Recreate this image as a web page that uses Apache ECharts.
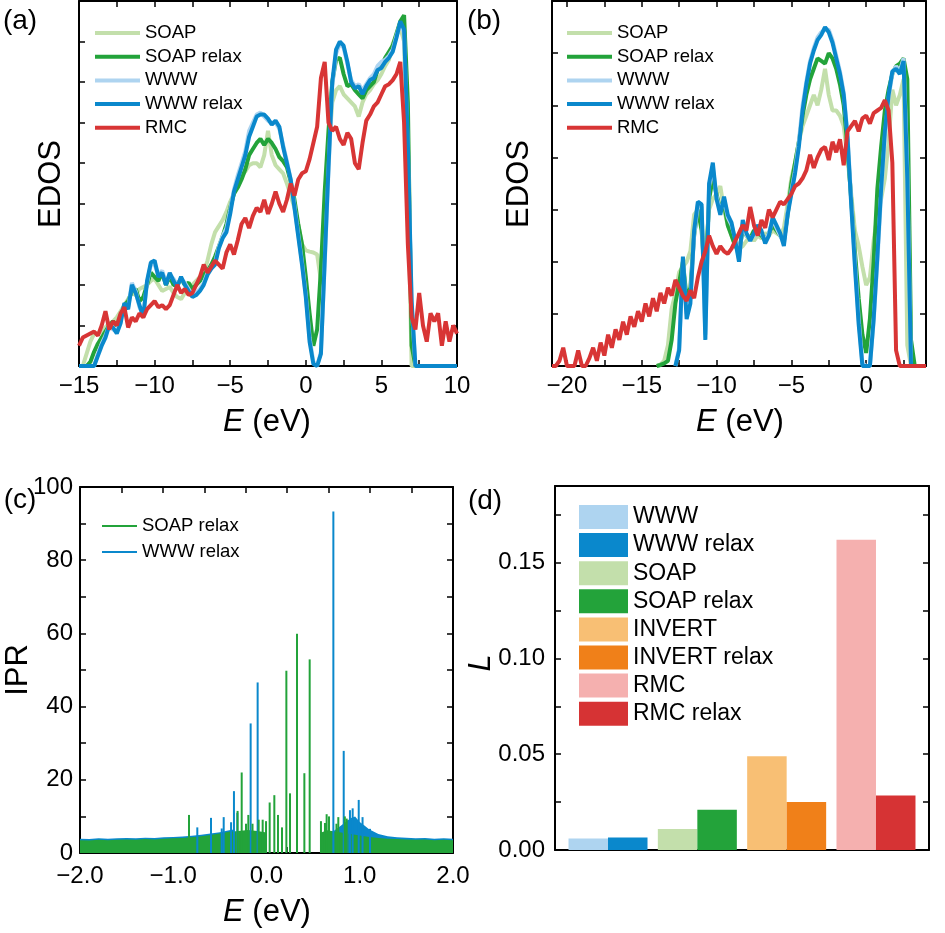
<!DOCTYPE html>
<html><head><meta charset="utf-8">
<script src="https://cdn.jsdelivr.net/npm/echarts@6.0.0/dist/echarts.min.js"></script>
<style>html,body{margin:0;padding:0;background:#fff}#c{width:945px;height:933px}</style>
</head><body><div id="c"></div>
<script>
// ---------------- DATA ----------------
// Panel (a): EDOS, E grid in eV
const energyA = [-15,-14.75,-14.5,-14.25,-14,-13.75,-13.5,-13.25,-13,-12.75,-12.5,-12.25,-12,-11.75,-11.5,-11.25,-11,-10.75,-10.5,-10.25,-10,-9.75,-9.5,-9.25,-9,-8.75,-8.5,-8.25,-8,-7.75,-7.5,-7.25,-7,-6.75,-6.5,-6.25,-6,-5.75,-5.5,-5.25,-5,-4.75,-4.5,-4.25,-4,-3.75,-3.5,-3.25,-3,-2.75,-2.5,-2.25,-2,-1.75,-1.5,-1.25,-1,-0.75,-0.5,-0.25,0,0.25,0.5,0.75,1,1.25,1.5,1.75,2,2.25,2.5,2.75,3,3.25,3.5,3.75,4,4.25,4.5,4.75,5,5.25,5.5,5.75,6,6.25,6.5,6.75,7,7.25,7.5,7.75,8,8.25,8.5,8.75,9,9.25,9.5,9.75,10];
const soapA = [0,0,0.3,0.6,0.8,0.8,0.85,0.95,1.05,1.1, 1.2,1.35,1.5,1.65,1.8,1.75,1.9,1.95,2.0,2.1, 2.15,2.0,1.85,1.9,1.95,1.8,1.7,1.65,1.8,1.95, 2.0,2.1,2.2,2.3,2.6,3.0,3.3,3.45,3.6,3.8, 4.05,4.25,4.5,4.7,4.8,4.95,5.0,5.0,4.9,5.2, 5.8,5.2,4.95,4.85,4.75,4.5,4.2,3.9,3.5,3.0, 2.85,2.82,2.8,2.75,2.1,3.6,5.2,6.5,6.8,6.9, 6.7,6.6,6.5,6.4,6.15,6.5,6.7,6.8,6.95,7.05, 7.2,7.4,7.55,7.95,8.15,8.35,8.0,4.5,0,0, 0,0,0,0,0,0,0,0,0,0,0];
const soapRelaxA = [0,0,0,0.1,0.35,0.55,0.7,0.85,1.0,1.1, 1.0,1.2,1.5,1.6,1.85,1.9,1.6,1.7,2.0,2.3, 2.2,2.1,2.3,2.0,2.2,2.0,2.0,2.15,2.0,2.05, 1.9,2.0,2.1,2.25,2.35,2.5,2.7,2.95,3.2,3.5, 3.9,4.25,4.4,4.6,4.85,5.2,5.35,5.5,5.6,5.45, 5.6,5.5,5.35,5.15,5.05,4.9,4.55,4.1,3.5,3.0, 2.2,1.3,0.5,0.9,2.4,4.3,5.8,7.0,7.55,7.6, 7.2,6.9,6.95,6.8,6.7,6.6,6.8,6.9,7.0,7.3, 7.4,7.6,7.75,7.9,8.2,8.5,8.65,6.5,0.5,0, 0,0,0,0,0,0,0,0,0,0,0];
const wwwA = [0,0,0,0,0,0.3,0.55,0.75,1.0,0.9, 0.85,1.1,1.5,1.45,2.05,1.85,1.45,1.25,2.05,2.5, 2.5,2.25,2.35,2.05,2.25,2.15,2.0,2.15,2.05,1.9, 1.75,1.8,1.9,2.05,2.3,2.45,2.55,2.95,3.2,3.4, 3.85,4.35,4.7,5.0,5.3,5.8,6.0,6.2,6.25,6.15, 6.05,6.0,6.0,5.85,5.45,5.05,4.6,3.95,3.25,2.55, 1.75,0.7,0.1,0,0.35,2.5,4.8,6.9,7.7,7.95, 7.85,7.45,7.05,6.9,6.95,6.8,6.95,7.1,7.2,7.4, 7.5,7.55,7.65,7.8,8.15,8.45,8.2,5.3,1.5,0, 0,0,0,0,0,0,0,0,0,0,0];
const wwwRelaxA = [0,0,0,0,0,0.25,0.5,0.7,1.0,0.95, 0.8,1.05,1.55,1.4,2.0,1.8,1.5,1.2,2.1,2.55, 2.6,2.2,2.3,2.0,2.3,2.1,1.95,2.2,2.0,1.85, 1.7,1.75,1.85,2.0,2.25,2.4,2.5,2.9,3.15,3.3, 3.75,4.3,4.6,4.9,5.2,5.65,5.9,6.15,6.2,6.2, 6.1,5.95,6.05,5.9,5.4,5.0,4.6,3.9,3.2,2.5, 1.7,0.6,0.05,0,0.3,2.6,4.9,7.0,7.8,8.0, 7.9,7.5,7.0,6.85,6.9,6.7,6.9,7.05,7.1,7.3, 7.35,7.5,7.6,7.75,8.1,8.5,8.3,5.5,1.6,0, 0,0,0,0,0,0,0,0,0,0,0];
const rmcA = [0.5,0.7,0.75,0.8,0.85,0.75,1.0,1.35,0.9,1.1, 1.0,1.3,1.45,0.95,1.2,1.1,1.3,1.2,1.4,1.5, 1.6,1.45,1.5,1.4,1.5,1.75,2.0,1.8,1.9,1.75, 1.8,2.0,2.2,2.5,2.3,2.45,2.6,2.5,2.4,2.8, 3.0,2.75,3.1,3.5,3.65,3.4,3.7,3.9,3.8,4.1, 3.75,4.0,4.3,4.0,3.8,4.1,4.5,4.2,4.6,4.75, 4.8,5.1,5.5,5.9,7.1,7.5,6.0,5.8,5.9,5.6, 5.45,5.75,5.6,5.0,4.85,5.5,6.05,6.2,6.4,6.5, 6.7,6.9,6.95,7.05,7.2,7.5,6.0,3.0,1.2,0.9, 1.8,1.0,0.6,1.3,1.1,1.3,0.5,1.1,0.6,1.0,0.8];

// Panel (b): EDOS, E grid in eV
const energyB = [-21,-20.75,-20.5,-20.25,-20,-19.75,-19.5,-19.25,-19,-18.75,-18.5,-18.25,-18,-17.75,-17.5,-17.25,-17,-16.75,-16.5,-16.25,-16,-15.75,-15.5,-15.25,-15,-14.75,-14.5,-14.25,-14,-13.75,-13.5,-13.25,-13,-12.75,-12.5,-12.25,-12,-11.75,-11.5,-11.25,-11,-10.75,-10.5,-10.25,-10,-9.75,-9.5,-9.25,-9,-8.75,-8.5,-8.25,-8,-7.75,-7.5,-7.25,-7,-6.75,-6.5,-6.25,-6,-5.75,-5.5,-5.25,-5,-4.75,-4.5,-4.25,-4,-3.75,-3.5,-3.25,-3,-2.75,-2.5,-2.25,-2,-1.75,-1.5,-1.25,-1,-0.75,-0.5,-0.25,0,0.25,0.5,0.75,1,1.25,1.5,1.75,2,2.25,2.5,2.75,3,3.25,3.5,3.75,4];
const N28 = [null,null,null,null,null,null,null,null,null,null,null,null,null,null,null,null,null,null,null,null,null,null,null,null,null,null,null,null];
const N33 = N28.concat([null,null,null,null,null]);
const soapB = N28.concat([0,0.03,0.1,0.4,1.1,1.4,1.8,1.9,2.0,2.2, 2.9,3.0,2.7,2.1,3.0,3.2,3.3,3.45,3.0,2.7, 2.5,2.3,2.25,2.3,2.4,2.5,2.4,2.5,2.45,2.55, 2.5,2.6,2.55,2.5,2.65,3.1,3.6,3.9,4.3,4.6, 4.8,5.0,5.2,5.0,5.3,5.7,5.2,4.9,4.9,4.8, 4.6,4.0,3.3,2.6,2.3,1.9,1.55,1.7,2.4,2.9, 3.2,3.6,4.3,5.3,5.0,5.2,5.5,0.4,0,0, 0,0,0]);
const soapRelaxB = N28.concat([0,0.02,0.05,0.1,0.5,1.2,1.6,2.0,1.3,1.5, 2.5,3.0,2.6,1.6,3.2,3.6,3.3,3.0,3.1,2.7, 2.5,2.3,2.2,2.6,2.5,2.45,2.6,2.55,2.5,2.4, 2.55,2.7,2.6,2.5,2.4,2.9,3.5,3.9,4.3,4.8, 5.2,5.5,5.7,5.9,5.85,5.8,6.0,5.9,5.7,5.4, 5.0,4.2,3.2,2.2,1.3,0.6,0.25,0.9,2.0,3.4, 4.2,4.9,5.3,5.6,5.75,5.8,5.9,5.5,0.5,0, 0,0,0]);
const wwwB = N33.concat([0,0.35,2.0,1.0,1.3,2.5,3.1,3.05,0.6,3.45, 3.8,3.25,2.95,3.2,2.85,2.7,2.45,2.05,2.75,2.5, 2.45,2.5,2.65,2.55,2.4,2.55,2.8,2.65,2.5,2.35, 2.95,3.35,3.75,4.3,5.0,5.45,5.85,6.1,6.3,6.4, 6.45,6.45,6.25,5.95,5.65,5.25,4.45,3.2,2.0,0.9, 0.05,0,0,0.85,2.0,3.3,4.4,5.15,5.6,5.75, 5.65,5.9,3.8,0,0,0,0,0]);
const wwwRelaxB = N33.concat([0,0.3,2.1,0.9,1.2,2.6,3.15,3.1,0.5,3.5, 3.9,3.2,2.9,3.25,2.9,2.75,2.4,2.0,2.8,2.55, 2.4,2.55,2.7,2.6,2.35,2.5,2.85,2.7,2.55,2.3, 2.9,3.3,3.7,4.2,4.9,5.4,5.8,6.05,6.25,6.35, 6.5,6.4,6.2,5.9,5.6,5.2,4.4,3.1,1.9,0.8, 0,0,0,0.9,2.1,3.4,4.5,5.2,5.65,5.7, 5.6,5.85,3.6,0,0,0,0,0]);
const rmcB = [0,0,0.1,0.35,0,0,0,0.3,0,0, 0.15,0.35,0.1,0.45,0.2,0.6,0.35,0.7,0.5,0.85, 0.6,0.95,0.75,1.05,0.85,1.2,0.95,1.3,1.05,1.4, 1.2,1.5,1.35,1.65,1.5,1.35,1.25,1.45,1.3,1.7, 2.0,2.2,2.5,2.3,2.15,2.3,2.2,2.15,2.25,2.4, 2.55,2.7,2.6,3.05,2.7,2.5,2.8,2.65,3.0,2.85, 3.0,3.15,3.1,3.2,3.3,3.45,3.5,3.6,3.75,4.05, 3.8,4.0,4.15,4.2,3.95,4.3,4.1,4.35,3.85,4.5, 4.6,4.7,4.5,4.75,4.8,4.65,4.85,4.9,4.95,5.1, 4.9,3.9,0.3,0,0,0,0,0,0,0,0];

// Panel (c): IPR
const soapSpikeE = [-0.831,-0.31,-0.266,-0.22,-0.195,-0.15,-0.084,-0.041,-0.005,0.034,0.084,0.123,0.166,0.213,0.252,0.327,0.406,0.463,0.584,0.627,0.645,0.67,0.75,0.77,0.84,0.86];
const soapSpikeV = [10.4,11.5,22.0,8.0,10.4,8.0,9.1,9.1,8.7,13.8,15.8,10.4,7.0,49.8,16.3,59.9,21.8,52.9,8.7,8.2,10.6,10.0,8.0,9.8,10.0,9.4];
const wwwSpikeE = [-0.742,-0.595,-0.48,-0.459,-0.38,-0.349,-0.313,-0.17,-0.095,0.717,0.828,0.87,0.895,0.924,0.989,1.03,1.11];
const wwwSpikeV = [7.0,9.6,6.7,9.8,8.4,16.9,11.0,35.4,46.6,93.3,27.9,8.9,11.7,12.2,14.5,9.8,6.6];
const soapBaseE = [-2,-1.9,-1.8,-1.7,-1.6,-1.5,-1.4,-1.3,-1.2,-1.1,-1,-0.9,-0.8,-0.7,-0.6,-0.5,-0.4,-0.3,-0.2,-0.1,0,0,0.58,0.58,0.65,0.7,0.8,0.9,1,1.1,1.2,1.3,1.4,1.5,1.6,1.7,1.8,1.9,2];
const soapBaseV = [3.5,3.4,3.6,3.5,3.6,3.7,3.6,3.8,3.7,3.9,4.0,4.1,4.3,4.6,4.9,5.3,5.8,6.0,6.3,6.0,5.6,0,0,5.5,6.2,6.0,5.6,5.2,4.8,4.4,4.1,3.9,3.8,3.7,3.6,3.7,3.5,3.6,3.5];
const wwwBaseE = [-2,-1.9,-1.8,-1.7,-1.6,-1.5,-1.4,-1.3,-1.2,-1.1,-1,-0.9,-0.8,-0.7,-0.6,-0.5,-0.4,-0.35,-0.35,0.72,0.72,0.8,0.9,0.95,1,1.05,1.1,1.2,1.3,1.4,1.5,1.6,1.7,1.8,1.9,2];
const wwwBaseV = [3.9,3.8,4.0,3.9,4.0,4.1,4.0,4.2,4.1,4.3,4.4,4.5,4.7,5.0,5.3,5.7,6.2,6.4,0,0,6.0,7.5,9.5,10.0,8.5,7.5,6.5,5.2,4.6,4.3,4.2,4.0,4.1,3.9,4.0,3.9];

// Panel (d): L
const groupCats = ['WWW','SOAP','INVERT','RMC'];
const barNames = ['WWW','WWW relax','SOAP','SOAP relax','INVERT','INVERT relax','RMC','RMC relax'];
const barValues = [0.006,0.0065,0.011,0.021,0.049,0.025,0.162,0.0285];

// Tick / label values
const tickA = [-15,-12.5,-10,-7.5,-5,-2.5,0,2.5,5,7.5,10];
const labelA = [-15,-10,-5,0,5,10];
const tickB = [-20,-17.5,-15,-12.5,-10,-7.5,-5,-2.5,0,2.5];
const labelB = [-20,-15,-10,-5,0];
const yTickA = [0,1,2,3,4,5,6,7,8,9];
const yTickB = [0,1,2,3,4,5,6,7];
const tickC = [-2,-1.556,-1.111,-0.667,-0.222,0.222,0.667,1.111,1.556,2];
const labelC = [-2,-1,0,1,2];
const yTickC = [0,10,20,30,40,50,60,70,80,90,100];
const yLabelC = [0,20,40,60,80,100];
const yTickD = [0,0.025,0.05,0.075,0.1,0.125,0.15,0.175];
const yLabelD = [0,0.05,0.1,0.15];

// ---------------- STYLE ----------------
const FONT = '"Liberation Sans", Arial, Helvetica, sans-serif';
const COL = {
  soap:'#c3dfab', soapRelax:'#23a33a', www:'#aed4f0', wwwRelax:'#0a88cc', rmcLine:'#d83535',
  invert:'#f8bf74', invertRelax:'#f08019', rmcBar:'#f5b0af', rmcRelax:'#d63334'
};
const barColors = [COL.www, COL.wwwRelax, COL.soap, COL.soapRelax, COL.invert, COL.invertRelax, COL.rmcBar, COL.rmcRelax];
const minus = s => String(s).replace('-', '\u2212');

function zip(xs, ys){ const n=Math.min(xs.length, ys.length); const out=[]; for(let i=0;i<n;i++) out.push([xs[i], ys[i]]); return out; }

function axis(o){
  const a = {
    type: o.type || 'value', gridIndex: o.grid, position: o.pos, min: o.min, max: o.max,
    axisLine: {show: o.line !== false, onZero: false, lineStyle: {color:'#000', width: 2}},
    axisTick: o.ticks ? {show:true, inside:true, length:6, customValues:o.ticks, lineStyle:{color:'#000', width:1.5}} : {show:false},
    axisLabel: o.labels ? {show:true, customValues:o.labels, formatter:o.fmt, fontSize:24, fontFamily:FONT, color:'#000', margin:o.margin} : {show:false},
    splitLine: {show:false}
  };
  if (o.type === 'category') { a.data = o.data; a.boundaryGap = true; delete a.min; delete a.max; }
  return a;
}

const grids = [
  {left:79, top:1, width:378, height:365},
  {left:552, top:1, width:374, height:365},
  {left:80, top:487, width:373, height:366},
  {left:555, top:486, width:374, height:364},
  {left:563.35, top:486, width:357.3, height:364}
];

const xAxes = [
  axis({grid:0,pos:'bottom',min:-15,max:10,ticks:tickA,labels:labelA,fmt:minus,margin:8}),
  axis({grid:0,pos:'top',min:-15,max:10,ticks:tickA}),
  axis({grid:1,pos:'bottom',min:-21,max:4,ticks:tickB,labels:labelB,fmt:minus,margin:8}),
  axis({grid:1,pos:'top',min:-21,max:4,ticks:tickB}),
  axis({grid:2,pos:'bottom',min:-2,max:2,ticks:tickC,labels:labelC,fmt:v=>minus(Number(v).toFixed(1)),margin:11}),
  axis({grid:2,pos:'top',min:-2,max:2,ticks:tickC}),
  axis({grid:3,pos:'bottom',min:0,max:1}),
  axis({grid:3,pos:'top',min:0,max:1}),
  axis({grid:4,pos:'bottom',type:'category',data:groupCats,line:false})
];
const yAxes = [
  axis({grid:0,pos:'left',min:0,max:9,ticks:yTickA}),
  axis({grid:0,pos:'right',min:0,max:9,ticks:yTickA}),
  axis({grid:1,pos:'left',min:0,max:7,ticks:yTickB}),
  axis({grid:1,pos:'right',min:0,max:7,ticks:yTickB}),
  axis({grid:2,pos:'left',min:0,max:100,ticks:yTickC,labels:yLabelC,fmt:v=>String(v),margin:7}),
  axis({grid:2,pos:'right',min:0,max:100,ticks:yTickC}),
  axis({grid:3,pos:'left',min:0,max:0.19,ticks:yTickD,labels:yLabelD,fmt:v=>Number(v).toFixed(2),margin:10}),
  axis({grid:3,pos:'right',min:0,max:0.19,ticks:yTickD}),
  axis({grid:4,pos:'left',min:0,max:0.19,line:false})
];

function lineSeries(name, xi, xs, ys, color, z){
  return {type:'line', name, xAxisIndex:xi, yAxisIndex:xi, data:zip(xs, ys), symbol:'none', showSymbol:false,
    color, itemStyle:{color}, lineStyle:{width:4, color}, z, connectNulls:false};
}

const series = [
  lineSeries('a:SOAP',0,energyA,soapA,COL.soap,2),
  lineSeries('a:SOAP relax',0,energyA,soapRelaxA,COL.soapRelax,3),
  lineSeries('a:WWW',0,energyA,wwwA,COL.www,4),
  lineSeries('a:WWW relax',0,energyA,wwwRelaxA,COL.wwwRelax,5),
  lineSeries('a:RMC',0,energyA,rmcA,COL.rmcLine,6),
  lineSeries('b:SOAP',2,energyB,soapB,COL.soap,2),
  lineSeries('b:SOAP relax',2,energyB,soapRelaxB,COL.soapRelax,3),
  lineSeries('b:WWW',2,energyB,wwwB,COL.www,4),
  lineSeries('b:WWW relax',2,energyB,wwwRelaxB,COL.wwwRelax,5),
  lineSeries('b:RMC',2,energyB,rmcB,COL.rmcLine,6),
  {type:'line', name:'c:WWW relax', xAxisIndex:4, yAxisIndex:4, data:zip(wwwBaseE, wwwBaseV), symbol:'none', color:COL.wwwRelax,
    itemStyle:{color:COL.wwwRelax}, lineStyle:{width:0}, areaStyle:{color:COL.wwwRelax, opacity:1}, z:1},
  {type:'line', name:'c:SOAP relax', xAxisIndex:4, yAxisIndex:4, data:zip(soapBaseE, soapBaseV), symbol:'none', color:COL.soapRelax,
    itemStyle:{color:COL.soapRelax}, lineStyle:{width:0}, areaStyle:{color:COL.soapRelax, opacity:1}, z:2},
  {type:'bar', name:'c:WWW relax', xAxisIndex:4, yAxisIndex:4, data:zip(wwwSpikeE, wwwSpikeV), barWidth:2, barGap:'-100%',
    color:COL.wwwRelax, itemStyle:{color:COL.wwwRelax}, z:3},
  {type:'bar', name:'c:SOAP relax', xAxisIndex:4, yAxisIndex:4, data:zip(soapSpikeE, soapSpikeV), barWidth:2, barGap:'-100%',
    color:COL.soapRelax, itemStyle:{color:COL.soapRelax}, z:3}
];
barNames.forEach((nm, i) => {
  const g = Math.floor(i/2);
  const data = groupCats.map((c, j) => j === g ? barValues[i] : '-');
  series.push({type:'bar', name:'d:'+nm, xAxisIndex:8, yAxisIndex:8, stack: (i%2===0 ? 'u' : 'r'), data,
    barWidth:39.5, barGap:'0%', color:barColors[i], itemStyle:{color:barColors[i]}, z:2});
});

function legend(o){
  return {show:true, orient:'vertical', left:o.left, top:o.top, padding:0, icon:'rect', itemWidth:o.w, itemHeight:o.h,
    itemGap:o.gap, selectedMode:false, data:o.data, formatter:n => n.slice(2), itemStyle:{borderWidth:0},
    textStyle:{fontSize:o.fs, lineHeight:o.lh, fontFamily:FONT, color:'#000'}};
}
const legends = [
  legend({left:95, top:23, w:45, h:4, gap:3.7, fs:18.5, lh:20, data:['a:SOAP','a:SOAP relax','a:WWW','a:WWW relax','a:RMC']}),
  legend({left:567, top:23, w:45, h:4, gap:3.7, fs:18.5, lh:20, data:['b:SOAP','b:SOAP relax','b:WWW','b:WWW relax','b:RMC']}),
  legend({left:102, top:516, w:35, h:2, gap:6, fs:18.5, lh:20, data:['c:SOAP relax','c:WWW relax']}),
  legend({left:579, top:505, w:49, h:24, gap:4.1, fs:23, lh:24, data:barNames.map(n=>'d:'+n)})
];

function txt(x, y, text, fs, rot, italic){
  const st = {text, fontSize:fs, fontFamily:FONT, fill:'#000', align:'center', verticalAlign:'middle',
    textAlign:'center', textVerticalAlign:'middle', fontStyle: italic ? 'italic' : 'normal',
    rich:{i:{fontStyle:'italic', fontSize:fs, fontFamily:FONT, fill:'#000'}}};
  return {type:'text', x, y, rotation: rot || 0, style: st, z:100};
}
const graphics = [
  txt(20, 21.5, '(a)', 28), txt(484, 21.5, '(b)', 28), txt(20, 500, '(c)', 28), txt(485, 501, '(d)', 28),
  txt(51.5, 184, 'EDOS', 31, Math.PI/2), txt(519, 184, 'EDOS', 31, Math.PI/2),
  txt(18, 670, 'IPR', 31, Math.PI/2), txt(481, 663, 'L', 31, Math.PI/2, true),
  txt(267, 422, '{i|E} (eV)', 31), txt(740, 422, '{i|E} (eV)', 31), txt(267, 912, '{i|E} (eV)', 31)
];

const chart = echarts.init(document.getElementById('c'), null, {renderer:'canvas'});
chart.setOption({
  animation:false, backgroundColor:'#fff',
  textStyle:{fontFamily:FONT},
  grid:grids, xAxis:xAxes, yAxis:yAxes, series, legend:legends, graphic:graphics
});
</script></body></html>
